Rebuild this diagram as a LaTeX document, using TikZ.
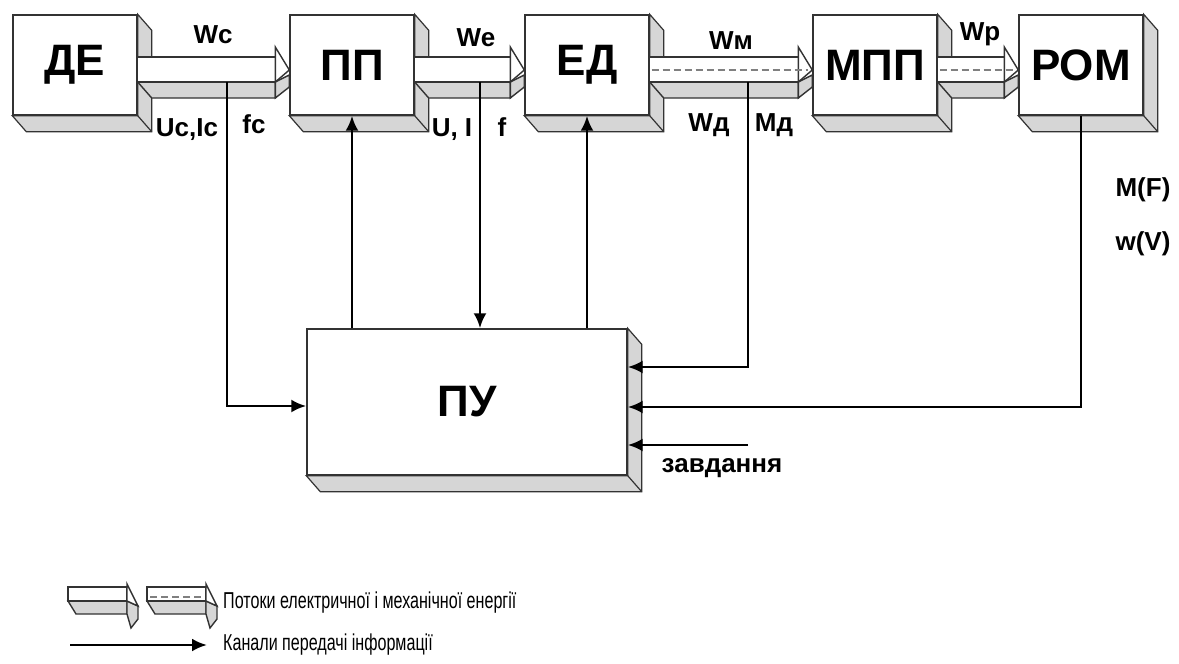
\documentclass[tikz,border=0pt]{standalone}
\usepackage{fontspec}
\setmainfont{Liberation Sans}
\newfontfamily\narrowfont[FakeStretch=0.7]{Liberation Sans}
\usetikzlibrary{arrows.meta,calc,backgrounds}
\definecolor{face}{HTML}{D6D6D6}
\definecolor{edge}{HTML}{333333}

% energy flow between two blocks: #1 from, #2 to, #3 = 1 for a dashed (mechanical) flow
\newcommand{\flowarrow}[3]{%
  \filldraw[flowside] ($(#1.east)+(0,17)$) -- ($(#1.east)+(14,33)$) -- ($(#2.west)+(-14,33)$) -- ($(#2.west)+(-14,17)$) -- cycle;
  \filldraw[flowtop] ($(#1.east)+(0,-8)$) rectangle ($(#2.west)+(-14,17)$);
  \filldraw[flowside] ($(#2.west)+(-14,17)$) -- ($(#2.west)+(0,10)$) -- ($(#2.west)+(0,22)$) -- ($(#2.west)+(-14,33)$) -- cycle;
  \filldraw[flowtop] ($(#2.west)+(-14,-18)$) -- ($(#2.west)+(0,5)$) -- ($(#2.west)+(-14,17)$) -- cycle;
  \ifnum#3=1 \draw[flowdash] ($(#1.east)+(2,5)$) -- ($(#2.west)+(-4,5)$);\fi
}

\begin{document}
\begin{tikzpicture}[x=1pt,y=-1pt,
  block/.style={draw=edge, line width=1.4pt, fill=white, minimum width=124pt, minimum height=100pt,
    inner sep=0pt, font=\bfseries\fontsize{44}{46}\selectfont},
  side/.style={draw=edge, line width=1.2pt, fill=face},
  flowtop/.style={draw=edge, line width=1.4pt, fill=white},
  flowside/.style={draw=edge, line width=1.4pt, fill=face},
  flowdash/.style={draw=gray, line width=1.8pt, dash pattern=on 7pt off 4pt},
  info/.style={line width=2.8pt, -{Latex[length=15pt,width=13pt]}},
  lbl/.style={font=\bfseries\fontsize{26}{26}\selectfont, anchor=base, inner sep=0pt},
  legend/.style={font=\narrowfont\fontsize{23}{23}\selectfont, anchor=west, inner sep=0pt}]
  \useasboundingbox (0,0) rectangle (1179,664);

  % ======= blocks =======
  \node[block] (de)  at (75,65)    {ДЕ};
  \node[block] (pp)  at (352,65)   {ПП};
  \node[block] (ed)  at (587,65)   {ЕД};
  \node[block] (mpp) at (875,65)   {МПП};
  \node[block] (rom) at (1081,65)  {РОМ};
  \node[block, minimum width=320pt, minimum height=146pt] (pu) at (467,402) {ПУ};

  % 3D sides and energy flows, under the front faces
  \begin{scope}[on background layer]
    \foreach \n in {de,pp,ed,mpp,rom,pu} {
      \filldraw[side] (\n.north east) -- ($(\n.north east)+(14,16)$) -- ($(\n.south east)+(14,16)$)
        -- ($(\n.south west)+(14,16)$) -- (\n.south west) -- (\n.south east) -- cycle;
      \draw[side] (\n.south east) -- ($(\n.south east)+(14,16)$);
    }
    \flowarrow{de}{pp}{0}
    \flowarrow{pp}{ed}{0}
    \flowarrow{ed}{mpp}{1}
    \flowarrow{mpp}{rom}{1}
  \end{scope}

  % ======= flow labels =======
  \node[lbl] (l-wc) at (213,43)  {Wc};
  \node[lbl] (l-we) at (476,46)  {We};
  \node[lbl] (l-wm) at (731,49)  {Wм};
  \node[lbl] (l-wp) at (980,40)  {Wp};
  \node[lbl] (l-uc) at (187,136) {Uc,Ic};
  \node[lbl] (l-fc) at (254,133) {fc};
  \node[lbl] (l-ui) at (452,136) {U, I};
  \node[lbl] (l-f)  at (502,136) {f};
  \node[lbl] (l-wd) at (709,131) {Wд};
  \node[lbl] (l-md) at (774,131) {Mд};
  \node[lbl] (l-mf) at (1143,196) {M(F)};
  \node[lbl] (l-wv) at (1143,250) {w(V)};
  \node[lbl] (l-task) at (722,472) {завдання};

  % ======= information channels =======
  \coordinate (wc-tap) at (227,82);
  \coordinate (we-tap) at (480,82);
  \coordinate (wm-tap) at (748,82);
  \coordinate (task)   at (748,445);
  \draw[info] (wc-tap) |- ([yshift=-4pt]pu.west);
  \draw[info] (pu.north -| pp.south) -- (pp.south);
  \draw[info] (we-tap) -- (we-tap |- pu.north);
  \draw[info] (pu.north -| ed.south) -- (ed.south);
  \draw[info] (wm-tap) |- ([yshift=35pt]pu.east);
  \draw[info] (rom.south) |- ([yshift=-5pt]pu.east);
  \draw[info] (task) -- (task -| pu.east);

  % ======= legend =======
  \foreach \x/\d in {68/0,147/1} {
    \filldraw[flowside] (\x,601) -- (\x+8,614) -- (\x+59,614) -- (\x+59,601) -- cycle;
    \filldraw[flowtop] (\x,587) rectangle (\x+59,601);
    \filldraw[flowside] (\x+59,601) -- (\x+70,606) -- (\x+70,619) -- (\x+63,628) -- (\x+59,614) -- cycle;
    \filldraw[flowtop] (\x+59,584) -- (\x+70,606) -- (\x+59,601) -- cycle;
    \ifnum\d=1 \draw[flowdash] (\x+3,597) -- (\x+57,597); \fi
  }
  \coordinate (lg-a) at (70,645);
  \coordinate (lg-b) at (207,645);
  \draw[info] (lg-a) -- (lg-b);
  \node[legend] (lg-energy) at (223,603) {Потоки електричної і механічної енергії};
  \node[legend] (lg-info)   at (223,645) {Канали передачі інформації};
\end{tikzpicture}
\end{document}
